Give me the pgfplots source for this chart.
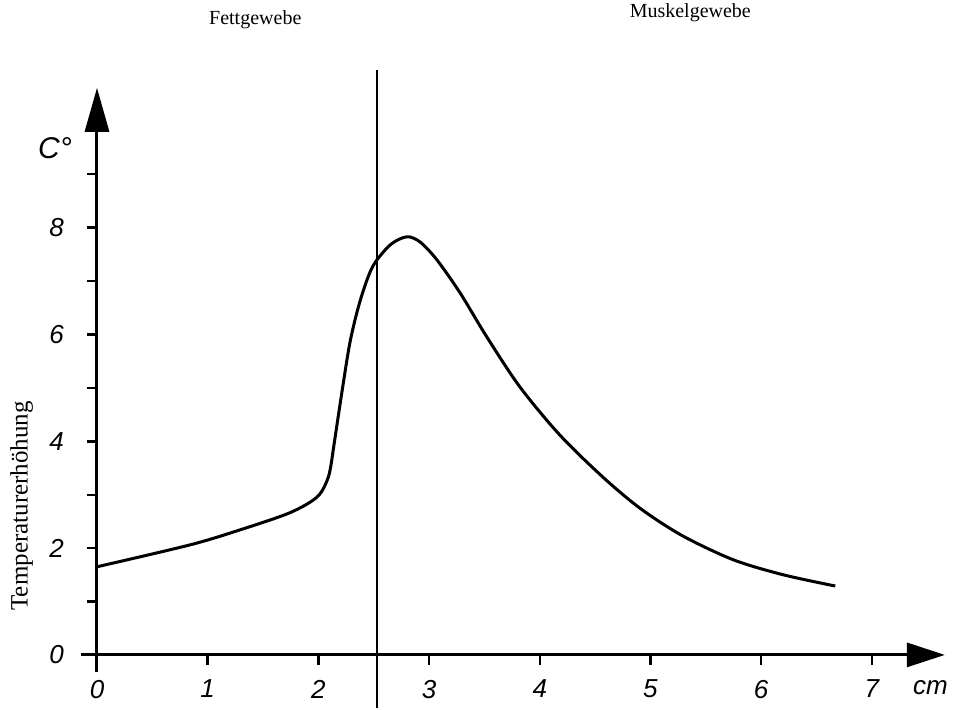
\documentclass[border=0pt]{standalone}
\usepackage{fontspec}
\setmainfont{Liberation Serif}
\setsansfont{Liberation Sans}
\usepackage{pgfplots}
\pgfplotsset{compat=1.18}
\usetikzlibrary{arrows.meta}

\begin{document}
\begin{tikzpicture}
\useasboundingbox (-40.75pt,-19pt) rectangle (435.75pt,336pt);
\begin{axis}[
  at={(0pt,0pt)}, anchor=south west,
  scale only axis,
  width=431.7pt, height=292.1pt,
  xmin=-0.14, xmax=7.66, ymin=-0.32, ymax=10.62,
  axis lines=middle,
  x axis line style={line width=1.5pt, -{Triangle[length=19pt,width=12pt]}},
  y axis line style={line width=1.5pt, -{Triangle[length=22pt,width=12pt]}},
  xtick={0,1,...,7},
  ytick={0,2,4,6,8},
  minor ytick={1,3,5,7,9},
  hide obscured x ticks=false,
  hide obscured y ticks=false,
  tick align=outside,
  major tick length=5pt, minor tick length=5pt,
  every tick/.style={black, line width=1.2pt},
  /pgf/number format/assume math mode=true,
  ticklabel style={font=\fontsize{13}{15}\selectfont\sffamily\itshape},
  xticklabel style={yshift=-4pt},
  yticklabel style={xshift=-8pt},
  clip=false,
]
% Fettgewebe, Anstieg
\addplot[black, line width=1.5pt, smooth, tension=0.5] coordinates {
  (0,1.65) (0.84,2.06) (1.29,2.34) (1.74,2.66) (1.99,2.96) (2.09,3.33) (2.13,3.78)
};
% Muskelgewebe, Maximum und Abfall
\addplot[black, line width=1.5pt, smooth, tension=0.5] coordinates {
  (2.13,3.78) (2.22,5.02) (2.29,5.90) (2.38,6.65) (2.49,7.27) (2.65,7.68) (2.80,7.83)
  (2.92,7.73) (3.07,7.40) (3.28,6.78) (3.52,5.96) (3.82,5.02) (4.18,4.12) (4.57,3.33)
  (4.91,2.74) (5.29,2.23) (5.75,1.78) (6.20,1.50) (6.67,1.29)
};
% Grenze Fett/Muskel
\addplot[black, line width=1pt] coordinates {(2.53,-1.0) (2.53,10.95)};

\node[font=\fontsize{13}{15}\selectfont\sffamily\itshape, yshift=-16.5pt] at (axis cs:7.53,0) {cm};
\node[font=\fontsize{15}{17}\selectfont\sffamily\itshape] at (axis cs:-0.38,9.49) {C°};
\node[rotate=90, font=\fontsize{12.5}{14}\selectfont] at (axis cs:-0.68,2.79) {Temperaturerhöhung};
\node[font=\fontsize{10}{12}\selectfont] at (axis cs:1.43,11.89) {Fettgewebe};
\node[font=\fontsize{10}{12}\selectfont] at (axis cs:5.36,12.02) {Muskelgewebe};
\end{axis}
\end{tikzpicture}
\end{document}
